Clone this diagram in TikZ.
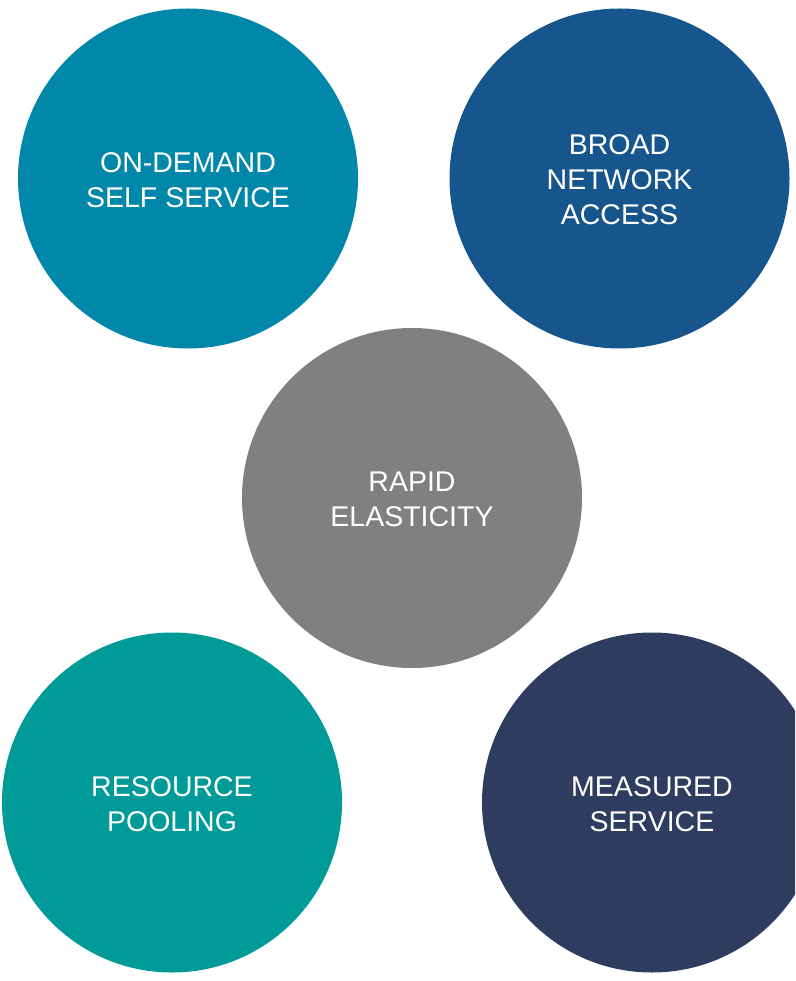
\documentclass[tikz,border=0pt]{standalone}
\usepackage{fontspec}
\setmainfont{Liberation Sans}
\definecolor{cOnDemand}{HTML}{0087A9}
\definecolor{cBroad}{HTML}{16568D}
\definecolor{cRapid}{HTML}{808080}
\definecolor{cPool}{HTML}{009A99}
\definecolor{cMeasured}{HTML}{2D3C5F}
\tikzset{
  bubble/.style={circle, minimum size=340pt, inner sep=0pt},
  bubbletext/.style={text=white, align=center, inner sep=0pt,
    font=\fontsize{28.5pt}{35pt}\selectfont}
}
\begin{document}
\begin{tikzpicture}[x=1pt,y=-1pt]
\useasboundingbox (0,0) rectangle (795,981);
\clip (0,0) rectangle (795,981);
\node[bubble, fill=cOnDemand] (ondemand) at (188,178.5) {};
\node[bubble, fill=cBroad] (broad) at (619.5,178.5) {};
\node[bubble, fill=cRapid] (rapid) at (412,498) {};
\node[bubble, fill=cPool] (pool) at (172,802.5) {};
\node[bubble, fill=cMeasured] (measured) at (652,802.5) {};
\node[bubbletext, yshift=-1.5pt] (tondemand) at (ondemand.center) {ON-DEMAND\\SELF SERVICE};
\node[bubbletext, yshift=-1.5pt] (tbroad) at (broad.center) {BROAD\\NETWORK\\ACCESS};
\node[bubbletext, yshift=-1.5pt] (trapid) at (rapid.center) {RAPID\\ELASTICITY};
\node[bubbletext, yshift=-1.5pt] (tpool) at (pool.center) {RESOURCE\\POOLING};
\node[bubbletext, yshift=-1.5pt] (tmeasured) at (measured.center) {MEASURED\\SERVICE};
\end{tikzpicture}
\end{document}
